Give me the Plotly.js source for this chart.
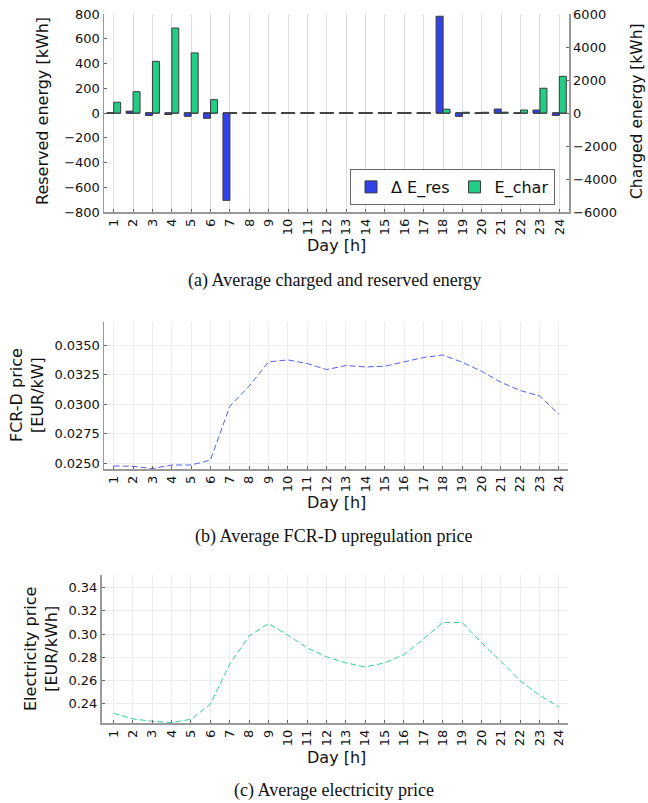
<!DOCTYPE html>
<html><head><meta charset="utf-8">
<script src="https://cdn.plot.ly/plotly-3.0.1.min.js"></script>
<style>html,body{margin:0;padding:0;background:#fff}#chart{width:648px;height:803px}</style>
</head><body><div id="chart"></div>
<script>
// ---- data ----
const days = [1,2,3,4,5,6,7,8,9,10,11,12,13,14,15,16,17,18,19,20,21,22,23,24];
const dayLabels = days.map(String);
const deltaEres = [0, 15, -20, -12, -27, -43, -706, 0, 0, 0, 0, 0, 0, 0, 0, 0, 0, 782, -27, -4, 32, -3, 24, -20];
const eChar = [650, 1290, 3130, 5150, 3640, 810, 0, 0, 0, 0, 0, 0, 0, 0, 0, 0, 0, 230, 45, 45, 50, 180, 1500, 2220];
const fcrdPrice = [0.02475, 0.02472, 0.02452, 0.02483, 0.02483, 0.02525, 0.02983, 0.03153, 0.03359, 0.03376, 0.03345, 0.03294,
                   0.03328, 0.03316, 0.03322, 0.03359, 0.03396, 0.03418, 0.03356, 0.0328, 0.03186, 0.03116, 0.0307, 0.02915];
const elecPrice = [0.2316, 0.2267, 0.2247, 0.2236, 0.2264, 0.2394, 0.274, 0.2982, 0.3091, 0.299, 0.288, 0.2803,
                   0.2751, 0.2716, 0.2751, 0.2823, 0.2956, 0.310, 0.310, 0.2927, 0.2766, 0.2596, 0.2472, 0.2371];
const leftTicksTop = [-800, -600, -400, -200, 0, 200, 400, 600, 800];
const rightTicksTop = [-6000, -4000, -2000, 0, 2000, 4000, 6000];
const fcrdTicks = [0.025, 0.0275, 0.03, 0.0325, 0.035];
const elecTicks = [0.24, 0.26, 0.28, 0.30, 0.32, 0.34];

// ---- layout helpers ----
const W = 648, H = 803;
const px = v => v / W;
const py = v => 1 - v / H;
const BW = 0.36;
const FONT = 'DejaVu Sans';
const blue = 'rgb(50,66,232)';
const green = 'rgb(34,206,134)';

const traces = [
  {type: 'bar', name: 'Δ E_res', x: days, y: deltaEres, xaxis: 'x', yaxis: 'y',
   width: BW, offset: -BW, marker: {color: blue, line: {color: '#3a3a3a', width: 1}}},
  {type: 'bar', name: 'E_char', x: days, y: eChar, xaxis: 'x', yaxis: 'y2',
   width: BW, offset: 0, marker: {color: green, line: {color: '#3a3a3a', width: 1}}},
  {type: 'scatter', mode: 'lines', x: days, y: fcrdPrice, xaxis: 'x2', yaxis: 'y3', showlegend: false,
   line: {color: 'rgba(60,80,240,0.9)', width: 1, dash: '6px,3px'}},
  {type: 'scatter', mode: 'lines', x: days, y: elecPrice, xaxis: 'x3', yaxis: 'y4', showlegend: false,
   line: {color: 'rgba(30,205,135,0.9)', width: 1, dash: '6px,3px'}}
];

const tickFont = {family: FONT, size: 13, color: '#111'};
function xax(domain, anchor, range, grid) {
  return {domain, anchor, range, tickvals: days, ticktext: dayLabels, tickangle: -90,
    tickfont: tickFont, showgrid: true, gridcolor: grid, gridwidth: 1,
    showline: true, linecolor: '#999', linewidth: 1.5, ticks: 'inside', ticklen: 3, tickcolor: '#666',
    zeroline: false, automargin: false, fixedrange: true};
}
function yax(domain, anchor, range, tickvals, fmt, grid) {
  return {domain, anchor, range, tickvals, tickformat: fmt, tickfont: tickFont,
    showgrid: grid !== null, gridcolor: grid || '#fff', gridwidth: 1,
    showline: true, linecolor: '#999', linewidth: 1.5, ticks: 'inside', ticklen: 3, tickcolor: '#666',
    zeroline: false, automargin: false, fixedrange: true};
}
function label(text, x, y, opts) {
  return Object.assign({text, xref: 'paper', yref: 'paper', x: px(x), y: py(y),
    xanchor: 'center', yanchor: 'middle', showarrow: false,
    font: {family: FONT, size: 16, color: '#111'}}, opts || {});
}
const capFont = {family: 'Liberation Serif', size: 18, color: '#111'};

const layout = {
  width: W, height: H,
  margin: {l: 0, r: 0, t: 0, b: 0},
  paper_bgcolor: '#fff', plot_bgcolor: '#fff',
  font: {family: FONT, color: '#111'},
  barmode: 'overlay',
  showlegend: true,
  legend: {orientation: 'h', x: px(555), xanchor: 'right', y: py(205), yanchor: 'bottom',
    bgcolor: '#fff', bordercolor: '#666', borderwidth: 1, font: {family: FONT, size: 16, color: '#111'}},
  xaxis: xax([px(104), px(569)], 'y', [0.5, 24.5], '#dedede'),
  yaxis: yax([py(212), py(14)], 'x', [-800, 800], leftTicksTop, 'd', null),
  yaxis2: Object.assign(yax([py(212), py(14)], 'x', [-6000, 6000], rightTicksTop, 'd', null),
    {overlaying: 'y', side: 'right'}),
  xaxis2: xax([px(104), px(568)], 'y3', [0.5, 24.47], '#ececec'),
  yaxis3: yax([py(469), py(322)], 'x2', [0.02449, 0.03698], fcrdTicks, '.4f', '#ececec'),
  xaxis3: xax([px(101.5), px(568)], 'y4', [0.38, 24.47], '#ececec'),
  yaxis4: yax([py(723), py(575)], 'x3', [0.2232, 0.351], elecTicks, '.2f', '#ececec'),
  shapes: [
    {type: 'line', xref: 'x', yref: 'y', layer: 'between',
     x0: days[0] - BW, x1: days[days.length - 1] + BW, y0: 0, y1: 0,
     line: {color: 'rgba(70,70,70,0.85)', width: 2, dash: '13.95px,5.43px'}}
  ],
  annotations: [
    label('Reserved energy [kWh]', 42, 111, {textangle: -90}),
    label('Charged energy [kWh]', 637, 111, {textangle: -90, font: {family: FONT, size: 15.5, color: '#111'}}),
    label('Day [h]', 336.5, 245),
    label('(a) Average charged and reserved energy', 334, 280, {font: capFont}),
    label('FCR-D price<br>[EUR/kW]', 27, 395, {textangle: -90}),
    label('Day [h]', 336, 503),
    label('(b) Average FCR-D upregulation price', 334, 536, {font: capFont}),
    label('Electricity price<br>[EUR/kWh]', 41, 649, {textangle: -90}),
    label('Day [h]', 336, 757),
    label('(c) Average electricity price', 334, 790, {font: capFont})
  ]
};

Plotly.newPlot('chart', traces, layout, {displayModeBar: false, staticPlot: true});
</script>
</body></html>
